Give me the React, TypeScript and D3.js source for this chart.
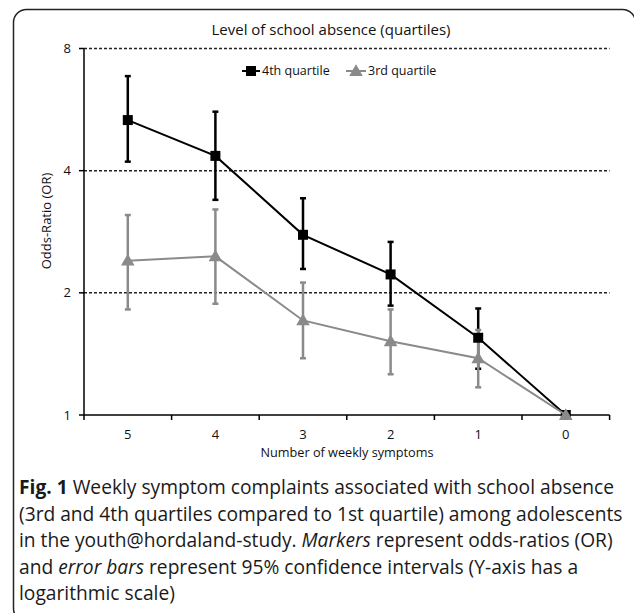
import React from "react";
import * as d3 from "d3";

const categories = ["5", "4", "3", "2", "1", "0"];
const q4Values = [5.33, 4.35, 2.78, 2.22, 1.55, 1.0];
const q4Upper = [6.84, 5.59, 3.42, 2.67, 1.83, 1.0];
const q4Lower = [4.21, 3.39, 2.29, 1.86, 1.3, 1.0];
const q3Values = [2.4, 2.46, 1.71, 1.52, 1.38, 1.0];
const q3Upper = [3.11, 3.21, 2.12, 1.82, 1.62, 1.0];
const q3Lower = [1.82, 1.88, 1.38, 1.26, 1.17, 1.0];
const yTicks = [1, 2, 4, 8];
const seriesNames = ["4th quartile", "3rd quartile"];

const W = 634;
const H = 613;
const left = 84;
const right = 609.6;
const top = 48.5;
const bottom = 415;

const FONT = "'Open Sans', sans-serif";
const BLACK = "#000";
const GRAY = "#8a8a8a";

export default function App() {
  const x = d3.scaleBand<string>().domain(categories).range([left, right]).padding(0);
  const y = d3.scaleLog().base(2).domain([1, 8]).range([bottom, top]);
  const cx = (c: string) => (x(c) as number) + x.bandwidth() / 2;

  const line = d3
    .line<number>()
    .x((_, i) => cx(categories[i]))
    .y((d) => y(d));

  const series = [
    { name: seriesNames[0], vals: q4Values, up: q4Upper, lo: q4Lower, color: BLACK, shape: "square" },
    { name: seriesNames[1], vals: q3Values, up: q3Upper, lo: q3Lower, color: GRAY, shape: "triangle" },
  ];

  const sqSym = d3.symbol().type(d3.symbolSquare).size(100)();
  const triSym = d3.symbol().type(d3.symbolTriangle).size(80)();

  const marker = (shape: string, color: string, px: number, py: number, key: string) => (
    <path key={key} d={shape === "square" ? (sqSym as string) : (triSym as string)} transform={`translate(${px},${py})`} fill={color} />
  );

  const errBars = (s: typeof series[0], key: string) => (
    <g key={key} stroke={s.color} strokeWidth={2.5}>
      {categories.map((c, i) =>
        s.up[i] === s.lo[i] ? null : (
          <g key={c}>
            <line x1={cx(c)} x2={cx(c)} y1={y(s.up[i])} y2={y(s.lo[i])} />
            <line x1={cx(c) - 3} x2={cx(c) + 3} y1={y(s.up[i])} y2={y(s.up[i])} />
            <line x1={cx(c) - 3} x2={cx(c) + 3} y1={y(s.lo[i])} y2={y(s.lo[i])} />
          </g>
        )
      )}
    </g>
  );

  const boundaries = d3.range(categories.length + 1).map((i) => left + i * x.bandwidth());

  const captionLines: React.ReactNode[] = [
    <>
      <tspan fontWeight="bold">Fig. 1</tspan> Weekly symptom complaints associated with school absence
    </>,
    <>(3rd and 4th quartiles compared to 1st quartile) among adolescents</>,
    <>
      in the youth@hordaland-study. <tspan fontStyle="italic">Markers</tspan> represent odds-ratios (OR)
    </>,
    <>
      and <tspan fontStyle="italic">error bars</tspan> represent 95% confidence intervals (Y-axis has a
    </>,
    <>logarithmic scale)</>,
  ];

  return (
    <svg width={W} height={H} style={{ position: "absolute", left: 0, top: 0, background: "#fff" }} fontFamily={FONT}>
      <rect x={13.5} y={9.5} width={622} height={612} rx={13} fill="#fff" stroke="#222" strokeWidth={1.5} />

      <text x={331} y={35} textAnchor="middle" fontSize={15} fill="#111">
        Level of school absence (quartiles)
      </text>

      {/* gridlines */}
      {yTicks.slice(1).map((t) => (
        <line key={t} x1={left} x2={right} y1={y(t)} y2={y(t)} stroke="#222" strokeWidth={1.5} strokeDasharray="3,2" />
      ))}

      {/* y axis */}
      <line x1={left} x2={left} y1={top} y2={bottom} stroke="#000" strokeWidth={1.5} />
      {yTicks.map((t) => (
        <g key={t}>
          <line x1={left - 5} x2={left} y1={y(t)} y2={y(t)} stroke="#000" strokeWidth={1.5} />
          <text x={left - 13} y={y(t)} dy="0.35em" textAnchor="end" fontSize={13} fill="#111">
            {t}
          </text>
        </g>
      ))}
      <text transform={`translate(46,221) rotate(-90)`} textAnchor="middle" fontSize={13} fill="#111" dy="0.35em">
        Odds-Ratio (OR)
      </text>

      {/* x axis */}
      <line x1={left} x2={right} y1={bottom} y2={bottom} stroke="#000" strokeWidth={1.5} />
      {boundaries.map((b, i) => (
        <line key={i} x1={b} x2={b} y1={bottom} y2={bottom + 5} stroke="#000" strokeWidth={1.5} />
      ))}
      {categories.map((c) => (
        <text key={c} x={cx(c)} y={434} dy="0.35em" textAnchor="middle" fontSize={13} fill="#111">
          {c}
        </text>
      ))}
      <text x={347} y={453} dy="0.35em" textAnchor="middle" fontSize={12.7} fill="#111">
        Number of weekly symptoms
      </text>

      {/* error bars */}
      {errBars(series[0], "e0")}
      {errBars(series[1], "e1")}

      {/* lines and markers */}
      {series.map((s, si) => (
        <g key={si}>
          <path d={line(s.vals) as string} fill="none" stroke={s.color} strokeWidth={2} />
          {s.vals.map((v, i) => marker(s.shape, s.color, cx(categories[i]), y(v) + (s.shape === "triangle" ? 1 : 0), `${si}-${i}`))}
        </g>
      ))}

      {/* legend */}
      <g>
        <line x1={242} x2={260} y1={71} y2={71} stroke={BLACK} strokeWidth={2} />
        {marker("square", BLACK, 251, 71, "lg0")}
        <text x={262} y={71} dy="0.35em" fontSize={12.5} fill="#111">
          {seriesNames[0]}
        </text>
        <line x1={346} x2={366} y1={71} y2={71} stroke={GRAY} strokeWidth={2} />
        {marker("triangle", GRAY, 356, 72, "lg1")}
        <text x={368} y={71} dy="0.35em" fontSize={12.5} fill="#111">
          {seriesNames[1]}
        </text>
      </g>

      {/* caption */}
      {captionLines.map((l, i) => (
        <text key={i} x={19} y={494 + i * 26.6} fontSize={19.2} fill="#1a1a1a">
          {l}
        </text>
      ))}
    </svg>
  );
}
